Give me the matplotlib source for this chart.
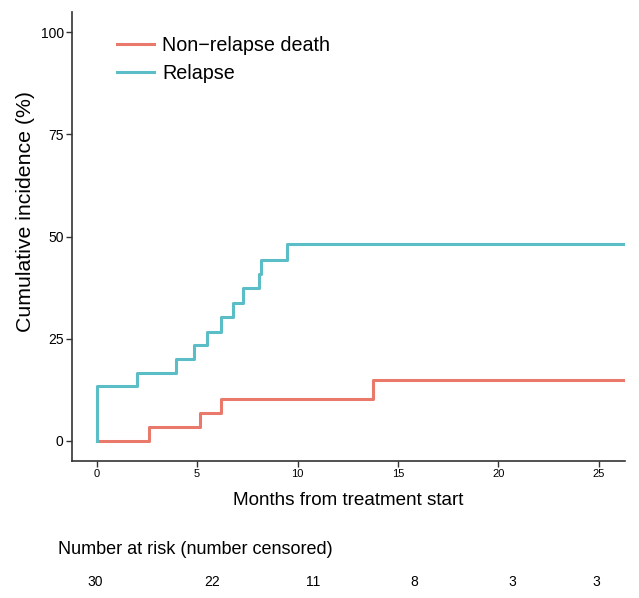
import matplotlib
matplotlib.use("Agg")
import matplotlib.pyplot as plt

plt.rcParams['font.family'] = ['Liberation Sans', 'DejaVu Sans']

# Cumulative incidence, step times (months) and values (%)
relapse_t = [0, 0, 2.02, 3.95, 4.82, 5.47, 6.18, 6.77, 7.30, 8.09, 8.16, 9.45, 26.3]
relapse_y = [0, 13.3, 16.6, 20.0, 23.3, 26.7, 30.2, 33.8, 37.3, 40.7, 44.2, 48.2, 48.2]
nrd_t = [0, 2.59, 5.15, 6.20, 13.73, 26.3]
nrd_y = [0, 3.3, 6.7, 10.1, 14.8, 14.8]

x_ticks = [0, 5, 10, 15, 20, 25]
y_ticks = [0, 25, 50, 75, 100]

risk_header = "Number at risk (number censored)"
risk_counts = ["30", "22", "11", "8", "3", "3"]
risk_xpix = [95, 212, 313, 414, 512, 596]

red = "#E9796B"
teal = "#5BBDC5"
dark = "#333333"

fig = plt.figure(figsize=(6.39, 5.98), dpi=100)
W, H = 639, 598
ax = fig.add_axes([72 / W, 1 - 461 / H, (625 - 72) / W, (461 - 12) / H])

ax.plot(nrd_t, nrd_y, drawstyle='steps-post', color=red, lw=2.2, label='Non\u2212relapse death')
ax.plot(relapse_t, relapse_y, drawstyle='steps-post', color=teal, lw=2.2, label='Relapse')

ax.set_xlim(-1.23, 26.3)
ax.set_ylim(-5, 105)
ax.set_xticks(x_ticks)
ax.set_yticks(y_ticks)
ax.tick_params(axis='x', labelsize=8, color=dark, length=4, width=1, pad=2)
ax.tick_params(axis='y', labelsize=10, color=dark, length=4, width=1, pad=2)

for s in ['top', 'right']:
    ax.spines[s].set_visible(False)
for s in ['left', 'bottom']:
    ax.spines[s].set_color(dark)
    ax.spines[s].set_linewidth(1.2)

# y label sits a bit above the panel centre in the original
fig.text(26 / W, 1 - 211 / H, 'Cumulative incidence (%)', fontsize=15.3,
         rotation=90, ha='center', va='center')
ax.set_xlabel('Months from treatment start', fontsize=13.6, labelpad=9)

leg = ax.legend(loc='upper left', bbox_to_anchor=(117 / W, 1 - 36 / H),
                bbox_transform=fig.transFigure, frameon=False, fontsize=14.2,
                handlelength=1.9, handletextpad=0.4, labelspacing=0.45,
                borderpad=0, borderaxespad=0)

fig.text(58 / W, 1 - 549 / H, risk_header, fontsize=13, va='center', ha='left')
for xp, c in zip(risk_xpix, risk_counts):
    fig.text(xp / W, 1 - 582 / H, c, fontsize=10, va='center', ha='center')

fig.savefig('out.png', dpi=100)
